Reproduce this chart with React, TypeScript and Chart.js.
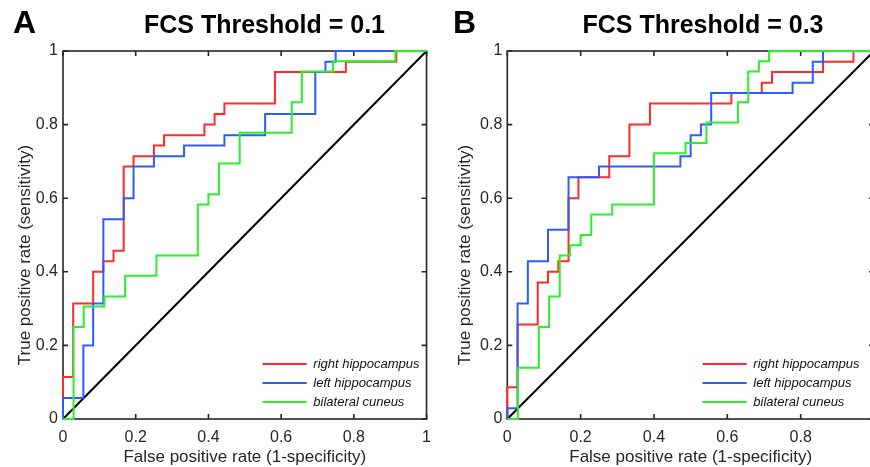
import React, { useEffect, useRef } from 'react';
import { Chart, registerables } from 'chart.js';

Chart.register(...registerables);

// ---------- labels ----------
const seriesLabels = ['right hippocampus', 'left hippocampus', 'bilateral cuneus'];
const seriesColors = ['#ff2a2a', '#2b5cff', '#2cef2c'];
const panelLetters = ['A', 'B'];
const panelTitles = ['FCS Threshold = 0.1', 'FCS Threshold = 0.3'];
const xAxisTitle = 'False positive rate (1-specificity)';
const yAxisTitle = 'True positive rate (sensitivity)';
const tickValues = [0, 0.2, 0.4, 0.6, 0.8, 1];

// ---------- Panel A (FCS threshold 0.1): ROC step vertices (FPR where TPR jumps, new TPR) ----------
const aRightHippoFpr = [0, 0, 0.028, 0.083, 0.111, 0.139, 0.167, 0.194, 0.25, 0.278, 0.389, 0.417, 0.444, 0.583, 0.778, 0.917, 1];
const aRightHippoTpr = [0, 0.114, 0.314, 0.4, 0.429, 0.457, 0.686, 0.714, 0.743, 0.771, 0.8, 0.829, 0.857, 0.943, 0.971, 1, 1];
const aLeftHippoFpr = [0, 0, 0.056, 0.083, 0.111, 0.167, 0.194, 0.25, 0.333, 0.444, 0.556, 0.694, 0.722, 0.75, 1];
const aLeftHippoTpr = [0, 0.057, 0.2, 0.314, 0.543, 0.6, 0.686, 0.714, 0.743, 0.771, 0.829, 0.943, 0.971, 1, 1];
const aCuneusFpr = [0, 0.029, 0.057, 0.114, 0.171, 0.257, 0.371, 0.4, 0.429, 0.486, 0.629, 0.657, 0.743, 0.914, 1];
const aCuneusTpr = [0, 0.25, 0.306, 0.333, 0.389, 0.444, 0.583, 0.611, 0.694, 0.778, 0.861, 0.944, 0.972, 1, 1];

// ---------- Panel B (FCS threshold 0.3) ----------
const bRightHippoFpr = [0, 0, 0.028, 0.083, 0.111, 0.139, 0.167, 0.194, 0.278, 0.333, 0.389, 0.611, 0.694, 0.722, 0.861, 0.944, 1];
const bRightHippoTpr = [0, 0.086, 0.257, 0.371, 0.4, 0.429, 0.6, 0.657, 0.714, 0.8, 0.857, 0.886, 0.914, 0.943, 0.971, 1, 1];
const bLeftHippoFpr = [0, 0, 0.028, 0.056, 0.111, 0.167, 0.25, 0.472, 0.5, 0.528, 0.556, 0.778, 0.833, 0.861, 1];
const bLeftHippoTpr = [0, 0.029, 0.314, 0.429, 0.514, 0.657, 0.686, 0.714, 0.771, 0.8, 0.886, 0.914, 0.971, 1, 1];
const bCuneusFpr = [0, 0.029, 0.086, 0.114, 0.143, 0.171, 0.2, 0.229, 0.286, 0.4, 0.486, 0.543, 0.629, 0.657, 0.686, 0.714, 1];
const bCuneusTpr = [0, 0.139, 0.25, 0.333, 0.444, 0.472, 0.5, 0.556, 0.583, 0.722, 0.75, 0.806, 0.861, 0.944, 0.972, 1, 1];

// chance diagonal
const chanceFpr = [0, 1];
const chanceTpr = [0, 1];

const FONT = '"Liberation Sans", Arial, Helvetica, sans-serif';
const AXIS_COLOR = '#262626';

const toPoints = (xs: number[], ys: number[]) => xs.map((x, i) => ({ x, y: ys[i] }));
const fmtTick = (v: number | string) => {
  const n = Number(v);
  return n.toFixed(1).replace(/\.0$/, '');
};

const panelDecor = {
  id: 'panelDecor',
  beforeDatasetsDraw(chart: any, _args: any, opts: any) {
    const { ctx, chartArea: a, scales } = chart;
    ctx.save();
    ctx.strokeStyle = AXIS_COLOR;
    ctx.lineWidth = 1.6;
    ctx.strokeRect(a.left, a.top, a.right - a.left, a.bottom - a.top);
    const L = 5;
    ctx.beginPath();
    scales.x.ticks.forEach((t: any) => {
      const px = scales.x.getPixelForValue(t.value);
      ctx.moveTo(px, a.bottom);
      ctx.lineTo(px, a.bottom - L);
      ctx.moveTo(px, a.top);
      ctx.lineTo(px, a.top + L);
    });
    scales.y.ticks.forEach((t: any) => {
      const py = scales.y.getPixelForValue(t.value);
      ctx.moveTo(a.left, py);
      ctx.lineTo(a.left + L, py);
      ctx.moveTo(a.right, py);
      ctx.lineTo(a.right - L, py);
    });
    ctx.stroke();
    ctx.restore();
  },
  afterDraw(chart: any, _args: any, opts: any) {
    const { ctx, chartArea: a } = chart;
    ctx.save();
    ctx.fillStyle = '#000';
    // panel letter
    ctx.font = `bold 32px ${FONT}`;
    ctx.textAlign = 'left';
    ctx.textBaseline = 'alphabetic';
    ctx.fillText(opts.letter, 13, 33);
    // title
    ctx.font = `bold 25px ${FONT}`;
    ctx.textAlign = 'center';
    ctx.fillText(opts.title, opts.titleX, 33);
    // axis titles
    ctx.fillStyle = AXIS_COLOR;
    ctx.font = `17px ${FONT}`;
    ctx.fillText(opts.xTitle, (a.left + a.right) / 2, 462);
    ctx.save();
    ctx.translate(25.5, 255);
    ctx.rotate(-Math.PI / 2);
    ctx.textBaseline = 'middle';
    ctx.fillText(opts.yTitle, 0, 0);
    ctx.restore();
    // legend
    const rows = [364, 383, 402];
    ctx.font = `italic 13px ${FONT}`;
    ctx.textAlign = 'left';
    ctx.textBaseline = 'middle';
    seriesLabels.forEach((lab, i) => {
      ctx.strokeStyle = seriesColors[i];
      ctx.lineWidth = 2;
      ctx.beginPath();
      ctx.moveTo(262.5, rows[i]);
      ctx.lineTo(306.7, rows[i]);
      ctx.stroke();
      ctx.fillStyle = '#111';
      ctx.fillText(lab, 313.3, rows[i]);
    });
    ctx.restore();
  },
};

function makeConfig(series: { xs: number[]; ys: number[] }[], idx: number, yWidth: number, padRight: number, titleX: number): any {
  const datasets: any[] = series.map((s, i) => ({
    label: seriesLabels[i],
    data: toPoints(s.xs, s.ys),
    borderColor: seriesColors[i],
    backgroundColor: seriesColors[i],
    borderWidth: 2,
    pointRadius: 0,
    fill: false,
    stepped: 'before',
    tension: 0,
    clip: false,
    order: 3 - i,
  }));
  datasets.push({
    label: 'chance',
    data: toPoints(chanceFpr, chanceTpr),
    borderColor: '#000',
    borderWidth: 2,
    pointRadius: 0,
    fill: false,
    clip: false,
    order: 10,
  });
  const tickFont = { family: FONT, size: 16 };
  return {
    type: 'line',
    data: { datasets },
    plugins: [panelDecor],
    options: {
      responsive: false,
      animation: false,
      devicePixelRatio: 1,
      events: [],
      layout: { padding: { left: 0, top: 51, right: padRight, bottom: 0 } },
      plugins: {
        legend: { display: false },
        tooltip: { enabled: false },
        title: { display: false },
        panelDecor: {
          letter: panelLetters[idx],
          title: panelTitles[idx],
          titleX,
          xTitle: xAxisTitle,
          yTitle: yAxisTitle,
        },
      },
      scales: {
        x: {
          type: 'linear',
          min: 0,
          max: 1,
          afterFit: (s: any) => { s.height = 48; },
          afterBuildTicks: (s: any) => { s.ticks = tickValues.map((v) => ({ value: v })); },
          grid: { display: false, drawTicks: false },
          border: { display: false },
          ticks: { padding: 9, color: AXIS_COLOR, font: tickFont, callback: fmtTick, maxRotation: 0, autoSkip: false },
        },
        y: {
          type: 'linear',
          min: 0,
          max: 1,
          afterFit: (s: any) => { s.width = yWidth; },
          afterBuildTicks: (s: any) => { s.ticks = tickValues.map((v) => ({ value: v })); },
          grid: { display: false, drawTicks: false },
          border: { display: false },
          ticks: { padding: 5, color: AXIS_COLOR, font: tickFont, callback: fmtTick, autoSkip: false },
        },
      },
    },
  };
}

export default function App() {
  const leftRef = useRef<HTMLCanvasElement>(null);
  const rightRef = useRef<HTMLCanvasElement>(null);

  useEffect(() => {
    const left = new Chart(
      leftRef.current as HTMLCanvasElement,
      makeConfig(
        [
          { xs: aRightHippoFpr, ys: aRightHippoTpr },
          { xs: aLeftHippoFpr, ys: aLeftHippoTpr },
          { xs: aCuneusFpr, ys: aCuneusTpr },
        ],
        0,
        63,
        10.5,
        264.5
      )
    );
    const right = new Chart(
      rightRef.current as HTMLCanvasElement,
      makeConfig(
        [
          { xs: bRightHippoFpr, ys: bRightHippoTpr },
          { xs: bLeftHippoFpr, ys: bLeftHippoTpr },
          { xs: bCuneusFpr, ys: bCuneusTpr },
        ],
        1,
        67.3,
        16,
        263
      )
    );
    return () => {
      left.destroy();
      right.destroy();
    };
  }, []);

  return (
    <div
      style={{
        position: 'absolute',
        left: 0,
        top: 0,
        width: 870,
        height: 467,
        overflow: 'hidden',
        background: '#fff',
      }}
    >
      <canvas ref={leftRef} width={440} height={467} style={{ position: 'absolute', left: 0, top: 0 }} />
      <canvas ref={rightRef} width={450} height={467} style={{ position: 'absolute', left: 440, top: 0 }} />
    </div>
  );
}
